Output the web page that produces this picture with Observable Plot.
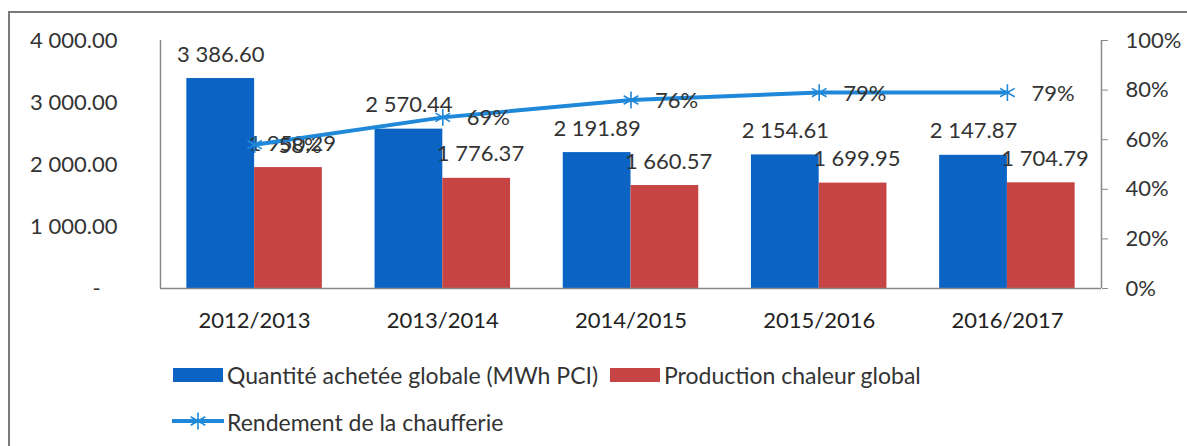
<!DOCTYPE html>
<html>
<head>
<meta charset="utf-8">
<script src="https://cdn.jsdelivr.net/npm/d3@7"></script>
<script src="https://cdn.jsdelivr.net/npm/@observablehq/plot@0.6"></script>
<style>
  html, body { margin: 0; padding: 0; background: #fff; }
  body { width: 1187px; height: 446px; position: relative; overflow: hidden; font-family: Lato, sans-serif; color: #333; }
  #frame { position: absolute; left: 8px; top: 11px; width: 1300px; height: 500px; border-left: 2px solid #7a7a7a; border-top: 2px solid #7a7a7a; }
  #chart { position: absolute; left: 0; top: 0; }
  .lg { position: absolute; font-size: 23px; font-weight: 400; line-height: 26px; white-space: nowrap; color: #333; }
  .sw { position: absolute; width: 50px; height: 14px; }
</style>
</head>
<body>
<div id="frame"></div>
<div id="chart"></div>
<div id="legend"></div>
<script>
const years = ["2012/2013", "2013/2014", "2014/2015", "2015/2016", "2016/2017"];
const achetee = [3386.60, 2570.44, 2191.89, 2154.61, 2147.87];
const production = [1950.29, 1776.37, 1660.57, 1699.95, 1704.79];
const rendement = [58, 69, 76, 79, 79];
const leftTicks = [0, 1000, 2000, 3000, 4000];
const rightTicks = [0, 20, 40, 60, 80, 100];
const seriesNames = ["Quantité achetée globale (MWh PCI)", "Production chaleur global", "Rendement de la chaufferie"];

const BLUE = "#0b63c4", RED = "#c74444", LINE = "#1f88d8";
const LMAX = 4000;
const rows = years.map((y, i) => ({i, year: y, a: achetee[i], p: production[i], r: rendement[i]}));
const fmt = v => v === 0 ? "-\u00a0\u00a0\u00a0" : d3.format(",.2f")(v).replace(/,/g, " ");
const pctY = d => d.r / 100 * LMAX;

const chart = Plot.plot({
  width: 1187,
  height: 340,
  marginLeft: 160,
  marginRight: 86,
  marginTop: 40,
  marginBottom: 52,
  style: {fontFamily: "Lato, sans-serif", fontSize: "22px", fontWeight: 400, color: "#333", background: "transparent"},
  x: {type: "linear", domain: [-0.5, 4.5], axis: null},
  y: {domain: [0, LMAX], axis: null},
  marks: [
    Plot.rectY(rows, {x1: d => d.i - 0.36, x2: d => d.i, y: "a", fill: BLUE}),
    Plot.rectY(rows, {x1: d => d.i, x2: d => d.i + 0.36, y: "p", fill: RED}),
    Plot.ruleX([-0.5], {y1: 0, y2: LMAX, stroke: "#888", strokeWidth: 1.5}),
    Plot.ruleX([4.5], {y1: 0, y2: LMAX, stroke: "#888", strokeWidth: 1.5}),
    Plot.ruleY([0], {stroke: "#888", strokeWidth: 1.5}),
    Plot.axisY(leftTicks, {anchor: "left", tickSize: 0, tickPadding: 43, tickFormat: fmt, fontSize: 22, fill: "#333", label: null}),
    Plot.axisY(rightTicks.map(t => t / 100 * LMAX), {anchor: "right", tickSize: 6, tickPadding: 18, stroke: "#888", tickFormat: d => Math.round(d / LMAX * 100) + "%", fontSize: 22, fill: "#333", label: null}),
    Plot.axisX(rows.map(d => d.i), {anchor: "bottom", tickSize: 0, tickPadding: 24, tickFormat: i => years[i], fontSize: 22, fill: "#222", label: null}),
    Plot.text(rows, {x: d => d.i - 0.18, y: "a", text: d => fmt(d.a), dy: -24, fontSize: 22, fill: "#333"}),
    Plot.text(rows, {x: d => d.i + 0.2, y: "p", text: d => fmt(d.p), dy: -24, fontSize: 22, fill: "#333"}),
    Plot.lineY(rows, {x: "i", y: pctY, stroke: LINE, strokeWidth: 4}),
    Plot.dot(rows, {x: "i", y: pctY, symbol: "asterisk", r: 8, stroke: LINE, strokeWidth: 1.6}),
    Plot.text(rows, {x: "i", y: pctY, text: d => d.r + "%", dx: 24, dy: 1, textAnchor: "start", fontSize: 22, fill: "#333"})
  ]
});
document.getElementById("chart").appendChild(chart);

const lg = document.getElementById("legend");
lg.innerHTML = `
  <div class="sw" style="left:173px;top:368px;background:${BLUE}"></div>
  <div class="lg" style="left:227px;top:362px">${seriesNames[0]}</div>
  <div class="sw" style="left:610px;top:368px;background:${RED}"></div>
  <div class="lg" style="left:664px;top:362px">${seriesNames[1]}</div>
  <svg style="position:absolute;left:171px;top:411px" width="54" height="20">
    <line x1="1" y1="10" x2="53" y2="10" stroke="${LINE}" stroke-width="4"></line>
    <path transform="translate(27,10)" d="${d3.symbol(d3.symbolAsterisk, Math.PI * 64)()}" fill="none" stroke="${LINE}" stroke-width="1.6"></path>
  </svg>
  <div class="lg" style="left:227px;top:409px">${seriesNames[2]}</div>
`;
</script>
</body>
</html>
